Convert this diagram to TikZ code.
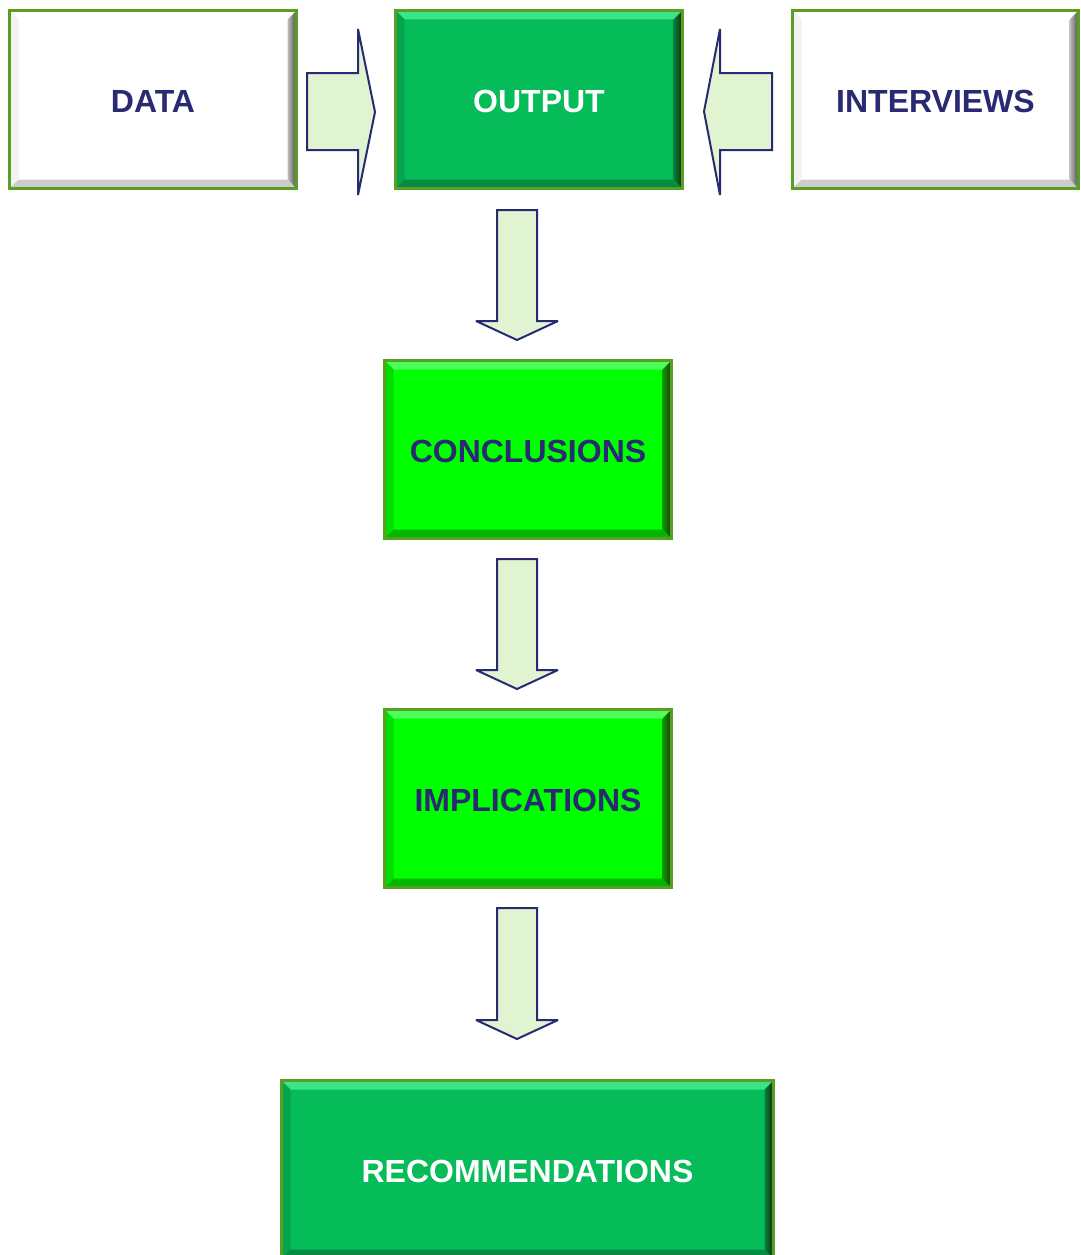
\documentclass[tikz,border=0pt]{standalone}
\usepackage{fontspec}
\setmainfont{Liberation Sans}
\usetikzlibrary{calc}
\definecolor{navy}{HTML}{2A2A72}
\definecolor{boxedge}{HTML}{5A9E24}
\definecolor{arrowfill}{HTML}{E0F4D2}
\definecolor{darkfill}{HTML}{05BC59}
\definecolor{limefill}{HTML}{00FF00}
\definecolor{HTML3BE38A}{HTML}{3BE38A}
\definecolor{HTML05A550}{HTML}{05A550}
\definecolor{HTML06803C}{HTML}{06803C}
\definecolor{HTML142E08}{HTML}{142E08}
\definecolor{HTML078A42}{HTML}{078A42}
\definecolor{HTML4DFF5A}{HTML}{4DFF5A}
\definecolor{HTML00DD00}{HTML}{00DD00}
\definecolor{HTML0A9A00}{HTML}{0A9A00}
\definecolor{HTML1A3A05}{HTML}{1A3A05}
\definecolor{HTML00B800}{HTML}{00B800}
\tikzset{
  bevelbox/.style n args={6}{
    fill=#1, draw=boxedge, line width=3pt, outer sep=0pt,
    minimum width=287pt, minimum height=178pt, inner sep=0pt,
    text height=26pt, text depth=0pt,
    font=\bfseries\fontsize{32}{38}\selectfont,
    path picture={
      \path (path picture bounding box.north west) coordinate (pnw)
            (path picture bounding box.north east) coordinate (pne)
            (path picture bounding box.south west) coordinate (psw)
            (path picture bounding box.south east) coordinate (pse);
      \fill[#2] (pnw) -- (pne) -- ([shift={(-9pt,-9pt)}]pne) -- ([shift={(9pt,-9pt)}]pnw) -- cycle;
      \fill[#3] (pnw) -- ([shift={(9pt,-9pt)}]pnw) -- ([shift={(9pt,9pt)}]psw) -- (psw) -- cycle;
      \fill[#6] (psw) -- (pse) -- ([shift={(-9pt,9pt)}]pse) -- ([shift={(9pt,9pt)}]psw) -- cycle;
      \shade[left color=#4, right color=#5] (pne) -- (pse) -- ([shift={(-9pt,9pt)}]pse) -- ([shift={(-9pt,-9pt)}]pne) -- cycle;
    }
  },
  bevelwhite/.style={bevelbox={white}{white}{black!5}{black!25}{black!70}{black!20}, text=navy},
  beveldark/.style={bevelbox={darkfill}{HTML3BE38A}{HTML05A550}{HTML06803C}{HTML142E08}{HTML078A42}, text=white},
  bevellime/.style={bevelbox={limefill}{HTML4DFF5A}{HTML00DD00}{HTML0A9A00}{HTML1A3A05}{HTML00B800}, text=navy},
  blockarrow/.style={fill=arrowfill, draw=navy, line width=2pt, line join=miter, miter limit=4},
}
\begin{document}
\begin{tikzpicture}[x=1pt,y=-1pt]
\useasboundingbox (0,0) rectangle (1080,1255);
\clip (0,0) rectangle (1080,1255);
\fill[white] (0,0) rectangle (1080,1255);

\node[bevelwhite] (data) at (153,99.5) {DATA};
\node[beveldark] (output) at (539,99.5) {OUTPUT};
\node[bevelwhite, minimum width=286pt] (interviews) at (935.5,99.5) {INTERVIEWS};
\node[bevellime] (conclusions) at (528,449.5) {CONCLUSIONS};
\node[bevellime] (implications) at (528,798.5) {IMPLICATIONS};
\node[beveldark, minimum width=492pt] (recs) at (527.5,1169.5) {RECOMMENDATIONS};

% DATA -> OUTPUT
\draw[blockarrow] ($(data.east)+(10.5,-26.5)$) -- ++(51,0) -- ++(0,-44)
  -- ($(output.west)+(-20.5,12.5)$) -- ++(-17,83) -- ++(0,-45) -- ++(-51,0) -- cycle;
% INTERVIEWS -> OUTPUT
\draw[blockarrow] ($(interviews.west)+(-20.5,-26.5)$) -- ++(-52,0) -- ++(0,-44)
  -- ($(output.east)+(21.5,12)$) -- ++(16,83.5) -- ++(0,-45) -- ++(52,0) -- cycle;
% OUTPUT -> CONCLUSIONS
\draw[blockarrow] ($(output.south)+(-42,21.5)$) -- ++(40,0) -- ++(0,111) -- ++(21,0)
  -- ($(conclusions.north)+(-11,-20.5)$) -- ++(-41,-19) -- ++(21,0) -- cycle;
% CONCLUSIONS -> IMPLICATIONS
\draw[blockarrow] ($(conclusions.south)+(-31,20.5)$) -- ++(40,0) -- ++(0,111) -- ++(21,0)
  -- ($(implications.north)+(-11,-20.5)$) -- ++(-41,-19) -- ++(21,0) -- cycle;
% IMPLICATIONS -> RECOMMENDATIONS
\draw[blockarrow] ($(implications.south)+(-31,20.5)$) -- ++(40,0) -- ++(0,112) -- ++(21,0)
  -- ($(recs.north)+(-10.5,-41.5)$) -- ++(-41,-19) -- ++(21,0) -- cycle;
\end{tikzpicture}
\end{document}
